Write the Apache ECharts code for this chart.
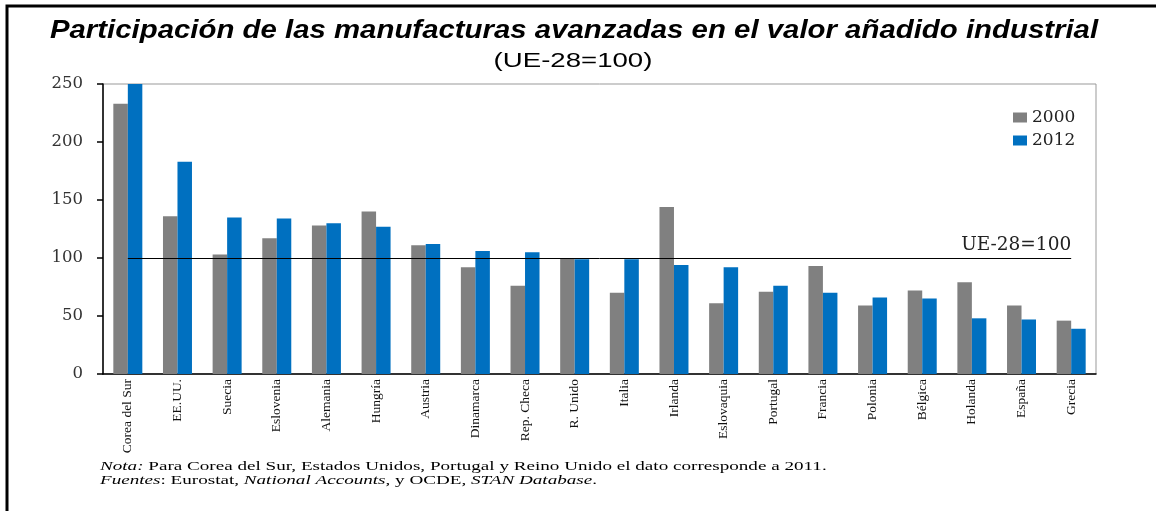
<!DOCTYPE html>
<html><head><meta charset="utf-8">
<script src="https://cdn.jsdelivr.net/npm/echarts@6/dist/echarts.min.js"></script>
<style>html,body{margin:0;padding:0;background:#fff}#c{width:1156px;height:511px}</style>
</head><body><div id="c"></div>
<script>
const categories = ['Corea del Sur','EE.UU.','Suecia','Eslovenia','Alemania','Hungría','Austria','Dinamarca','Rep. Checa','R. Unido','Italia','Irlanda','Eslovaquia','Portugal','Francia','Polonia','Bélgica','Holanda','España','Grecia'];
const values2000 = [233,136,103,117,128,140,111,92,76,100,70,144,61,71,93,59,72,79,59,46];
const values2012 = [250,183,135,134,130,127,112,106,105,99,99,94,92,76,70,66,65,48,47,39];
const yTicks = [0,50,100,150,200,250];
const refValue = 100;
const refLabel = 'UE-28=100';
const titleText = 'Participación de las manufacturas avanzadas en el valor añadido industrial';
const subtitleText = '(UE-28=100)';

const chart = echarts.init(document.getElementById('c'));
const serif = 'Liberation Serif';
const wideSerif = 'DejaVu Serif';
chart.setOption({
  animation:false,
  backgroundColor:'#fff',
  legend:{
    orient:'vertical', left:1008, top:104, itemWidth:14, itemHeight:10, itemGap:6,
    icon:'rect',
    textStyle:{fontFamily:wideSerif,fontSize:17,color:'#222'},
    data:['2000','2012']
  },
  grid:{left:103,right:60,top:84,bottom:137,show:true,borderColor:'#999',borderWidth:1},
  xAxis:{
    type:'category', data:categories,
    axisLine:{lineStyle:{color:'#000',width:1.5}},
    axisTick:{length:5,lineStyle:{color:'#000',width:1.5}},
    axisLabel:{rotate:90,margin:5,fontFamily:serif,fontSize:13.5,color:'#111',interval:0}
  },
  yAxis:{
    type:'value', min:yTicks[0], max:yTicks[yTicks.length-1], interval:50,
    splitLine:{show:false},
    axisLine:{show:true,lineStyle:{color:'#000',width:1.5}},
    axisTick:{show:true,length:6,lineStyle:{color:'#000',width:1.5}},
    axisLabel:{margin:20,fontFamily:wideSerif,fontSize:16.5,color:'#333'}
  },
  series:[{
    name:'2000', type:'bar', data:values2000, barWidth:14.5, barGap:'0%',
    itemStyle:{color:'#808080'}
  },{
    name:'2012', type:'bar', data:values2012, barWidth:14.5, barGap:'0%',
    itemStyle:{color:'#0070C0'}
  },{
    name:'ref', type:'line', data:[], silent:true,
    markLine:{
      silent:true, symbol:'none',
      lineStyle:{color:'#000',width:1,type:'solid'},
      label:{show:true,position:'insideEndTop',formatter:refLabel,fontFamily:wideSerif,fontSize:18.5,color:'#222',distance:[0,3]},
      data:[[{coord:[0,refValue]},{coord:[categories.length-1,refValue]}]]
    }
  }],
  graphic:[
    {type:'polyline',shape:{points:[[7,520],[7,6],[1160,6]]},style:{stroke:'#000',lineWidth:3,fill:null}},
    {type:'text',x:574,y:31,scaleX:1.13,style:{
      text:titleText, textAlign:'center', textVerticalAlign:'middle',
      font:'italic bold 26px "Liberation Sans"', fill:'#000'}},
    {type:'text',x:573,y:61,scaleX:1.38,style:{
      text:subtitleText, textAlign:'center', textVerticalAlign:'middle',
      font:'20px "Liberation Sans"', fill:'#000'}},
    {type:'text',x:100,y:460,scaleX:1.47,style:{
      text:'{i|Nota:} Para Corea del Sur, Estados Unidos, Portugal y Reino Unido el dato corresponde a 2011.\n{i|Fuentes}: Eurostat, {i|National Accounts}, y OCDE, {i|STAN Database}.',
      font:'13px "Liberation Serif"', fill:'#000', lineHeight:14,
      rich:{i:{fontStyle:'italic',fontFamily:serif,fontSize:13,lineHeight:14}}
    }}
  ]
});
</script></body></html>
